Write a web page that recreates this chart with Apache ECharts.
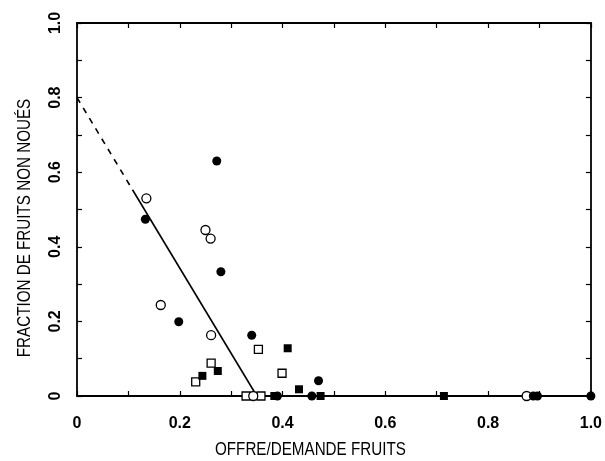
<!DOCTYPE html>
<html>
<head>
<meta charset="utf-8">
<script src="https://cdn.jsdelivr.net/npm/echarts@6/dist/echarts.min.js"></script>
<style>html,body{margin:0;padding:0;background:#fff}#c{width:605px;height:461px}</style>
</head>
<body>
<div id="c"></div>
<script>
// ---- data ----
const xTitle = 'OFFRE/DEMANDE FRUITS';
const yTitle = 'FRACTION DE FRUITS NON NOUÉS';
const tickLabels = ['0', '0.2', '0.4', '0.6', '0.8', '1.0'];

const filledCircles = [
  [0.272, 0.630], [0.133, 0.474], [0.280, 0.333], [0.198, 0.199],
  [0.340, 0.163], [0.470, 0.041], [0.390, 0.0], [0.457, 0.0],
  [0.888, 0.0], [0.896, 0.0], [1.0, 0.0]
];
const openCircles = [
  [0.135, 0.530], [0.250, 0.445], [0.260, 0.422], [0.163, 0.244],
  [0.261, 0.163], [0.343, 0.0], [0.875, 0.0]
];
const openSquares = [
  [0.353, 0.125], [0.261, 0.088], [0.231, 0.038], [0.399, 0.061],
  [0.329, 0.0], [0.358, 0.0]
];
const filledSquares = [
  [0.410, 0.128], [0.274, 0.067], [0.244, 0.054], [0.432, 0.018],
  [0.384, 0.0], [0.474, 0.0], [0.714, 0.0]
];
const fitDashed = [[0.0, 0.800], [0.108, 0.553]];
const fitSolid = [[0.108, 0.553], [0.350, 0.0]];

// ---- chart ----
const FONT = '"Liberation Sans", Arial, sans-serif';
const chart = echarts.init(document.getElementById('c'), null, {renderer: 'canvas'});

function lbl(v) {
  const k = Math.round(v * 10);
  if (k % 2) return '';
  return tickLabels[k / 2];
}
const tickCommon = {show: true, inside: true, length: 5, lineStyle: {color: '#000', width: 1.2}};
const lineCommon = {show: true, onZero: false, lineStyle: {color: '#000', width: 1.8}};
const labelCommon = {formatter: lbl, color: '#000', fontFamily: FONT, fontSize: 16, fontWeight: 'bold', showMinLabel: true, showMaxLabel: true};

const markerSize = 9;
chart.setOption({
  animation: false,
  backgroundColor: '#fff',
  graphic: [{
    type: 'text', x: 215, y: 450, scaleX: 0.8,
    style: {text: xTitle, fontFamily: FONT, fontSize: 19, fill: '#000', align: 'left', verticalAlign: 'middle'}
  }, {
    type: 'text', x: 25, y: 228, rotation: Math.PI / 2, scaleX: 0.8,
    style: {text: yTitle, fontFamily: FONT, fontSize: 19, fill: '#000', align: 'center', verticalAlign: 'middle'}
  }],
  grid: {left: 77, right: 10, top: 23, bottom: 65, containLabel: false},
  xAxis: [{
    type: 'value', min: 0, max: 1, interval: 0.1, position: 'bottom',
    axisLine: lineCommon, axisTick: tickCommon, splitLine: {show: false},
    axisLabel: Object.assign({margin: 20}, labelCommon)
  }, {
    type: 'value', min: 0, max: 1, interval: 0.1, position: 'top',
    axisLine: lineCommon, axisTick: tickCommon, splitLine: {show: false}, axisLabel: {show: false}
  }],
  yAxis: [{
    type: 'value', min: 0, max: 1, interval: 0.1, position: 'left',
    axisLine: lineCommon, axisTick: tickCommon, splitLine: {show: false},
    axisLabel: Object.assign({rotate: 90, margin: 13}, labelCommon)
  }, {
    type: 'value', min: 0, max: 1, interval: 0.1, position: 'right',
    axisLine: lineCommon, axisTick: tickCommon, splitLine: {show: false}, axisLabel: {show: false}
  }],
  series: [
    {type: 'line', data: fitDashed, symbol: 'none', lineStyle: {color: '#000', width: 1.6, type: [6, 6]}, z: 3},
    {type: 'line', data: fitSolid, symbol: 'none', lineStyle: {color: '#000', width: 1.6}, z: 3},
    {type: 'scatter', data: openSquares, symbol: 'rect', symbolSize: 8,
     itemStyle: {color: '#fff', borderColor: '#000', borderWidth: 1.3, opacity: 1}, z: 4},
    {type: 'scatter', data: filledSquares, symbol: 'rect', symbolSize: 8,
     itemStyle: {color: '#000', borderColor: '#000', borderWidth: 0, opacity: 1}, z: 4},
    {type: 'scatter', data: openCircles, symbol: 'circle', symbolSize: markerSize,
     itemStyle: {color: '#fff', borderColor: '#000', borderWidth: 1.3, opacity: 1}, z: 5},
    {type: 'scatter', data: filledCircles, symbol: 'circle', symbolSize: markerSize,
     itemStyle: {color: '#000', borderColor: '#000', borderWidth: 0, opacity: 1}, z: 5}
  ]
});
</script>
</body>
</html>
